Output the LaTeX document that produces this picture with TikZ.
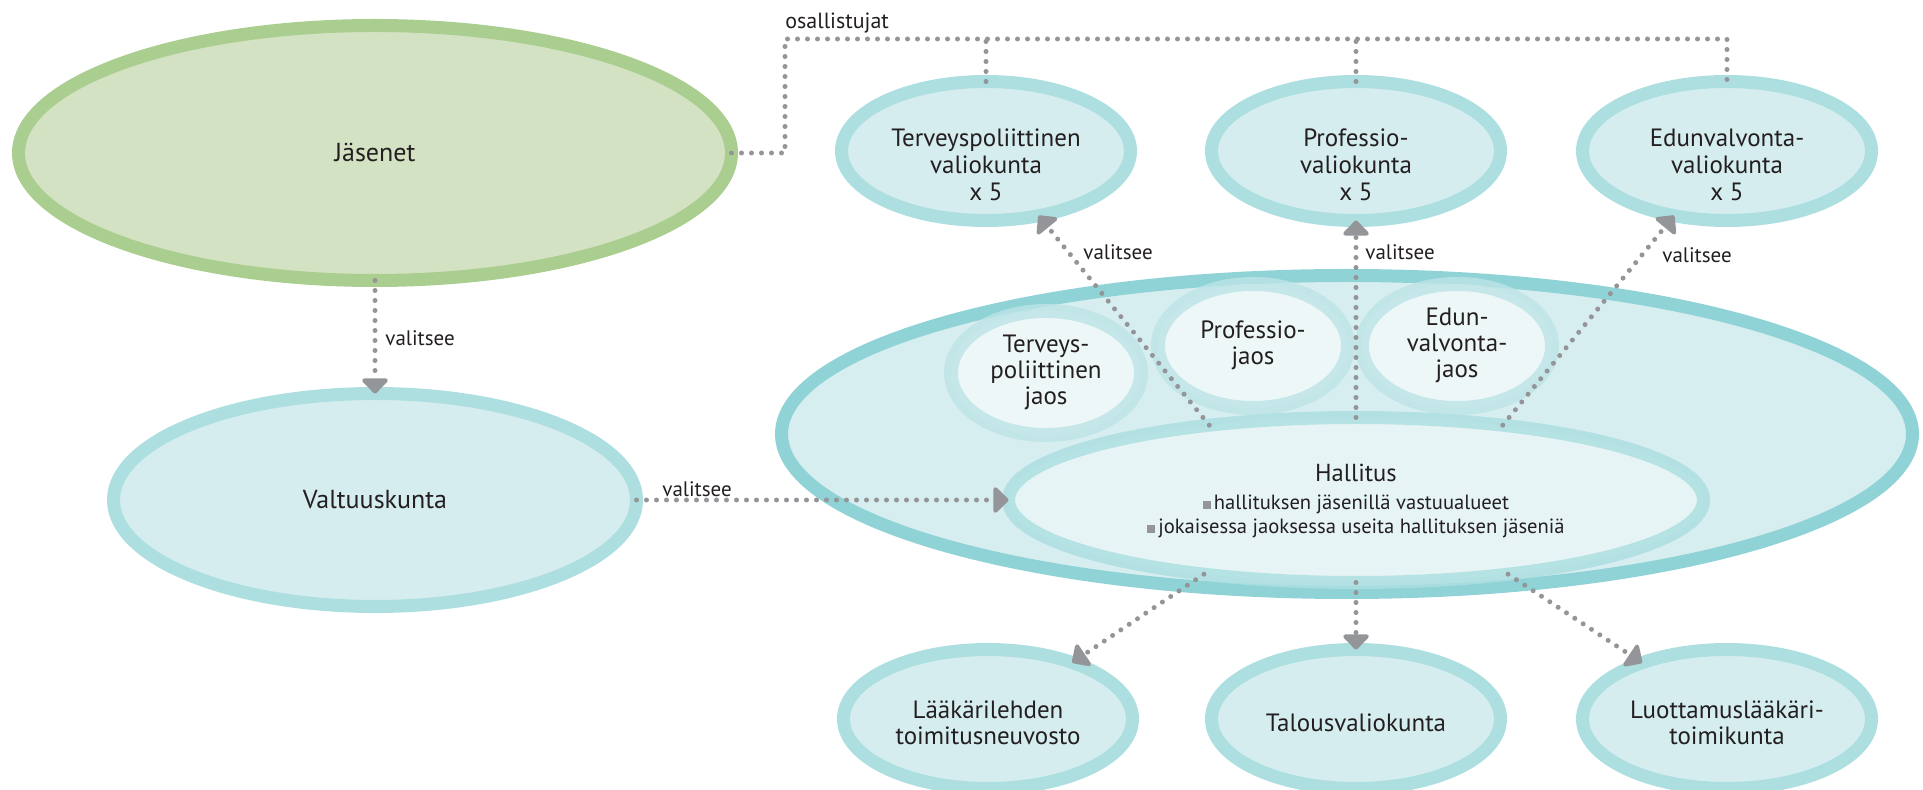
\documentclass[tikz,border=0pt]{standalone}
\usepackage{fontspec}
\setmainfont{PT Sans}
\usetikzlibrary{shapes.geometric,arrows.meta}
\definecolor{txt}{HTML}{231F20}
\definecolor{greenring}{HTML}{AACE8F}
\definecolor{greenfill}{HTML}{D3E2C2}
\definecolor{tealring}{HTML}{ADDFE1}
\definecolor{tealfill}{HTML}{D5EDEE}
\definecolor{bigring}{HTML}{8FD3D7}
\definecolor{bigfill}{HTML}{D7EEF0}
\definecolor{hallring}{HTML}{ADDFE1}
\definecolor{hallfill}{HTML}{EAF6F7}
\definecolor{jaosring}{HTML}{BDE4E7}
\definecolor{jaosfill}{HTML}{EEF7F8}
\definecolor{dotgray}{HTML}{939598}
\newcommand\lowered[2]{\raisebox{#1}[\height][\depth]{\begin{tabular}{@{}c@{}}#2\end{tabular}}}
\newcommand\hbul{{\color{dotgray}\rule{4pt}{4pt}}\hspace{1.5pt}}
\begin{document}
\begin{tikzpicture}[x=0.5pt,y=-0.5pt,
  oval/.style={ellipse, inner sep=0pt, outer sep=0pt, line width=6.5pt, text=txt},
  tealoval/.style={oval, draw=tealring, fill=tealfill, minimum width=144.5pt, minimum height=69.5pt, font=\fontsize{12.5}{13.5}\selectfont},
  jaos/.style={oval, draw=jaosring, draw opacity=0.8, fill=jaosfill, line width=7pt, minimum width=95pt, minimum height=62pt, font=\fontsize{12.5}{13}\selectfont},
  dotline/.style={draw=dotgray, line width=2.5pt, line cap=round, dash pattern=on 0pt off 5pt},
  arr/.style={dotline, -{Triangle[width=15pt,length=8pt,round=false]}},
  lbl/.style={font=\fontsize{10.5}{12}\selectfont, text=txt, inner sep=0pt, anchor=west},
]
\useasboundingbox (0,0) rectangle (1923,790);

% main ovals
\node[oval, draw=greenring, fill=greenfill, minimum width=356.5pt, minimum height=127.5pt, font=\fontsize{13}{15}\selectfont] (jas) at (375,153) {Jäsenet};
\node[oval, draw=tealring, fill=tealfill, minimum width=261.5pt, minimum height=106.5pt, font=\fontsize{13}{15}\selectfont] (val) at (375,500) {Valtuuskunta};
\node[oval, draw=bigring, fill=bigfill, minimum width=565.5pt, minimum height=158.5pt] (big) at (1347,434) {};

% jaos
\node[jaos] (tj) at (1046,373) {\lowered{0pt}{Terveys-\\poliittinen\\jaos}};
\node[jaos] (pj) at (1253,346) {\lowered{0pt}{Professio-\\jaos}};
\node[jaos] (ej) at (1457,346) {\lowered{0pt}{Edun-\\valvonta-\\jaos}};

% hallitus
\node[oval, draw=hallring, fill=hallfill, fill opacity=0.85, draw opacity=0.85, text opacity=1, minimum width=347.5pt, minimum height=82.5pt, font=\fontsize{10.3}{12}\selectfont] (hal) at (1356,500)
  {\lowered{-1pt}{{\fontsize{12.3}{14}\selectfont Hallitus}\\[2pt] \hbul hallituksen jäsenillä vastuualueet\\ \hbul jokaisessa jaoksessa useita hallituksen jäseniä}};

% valiokunnat
\node[tealoval] (tpv) at (986,151) {\lowered{-8.5pt}{Terveyspoliittinen\\valiokunta\\x 5}};
\node[tealoval] (ppv) at (1356,151) {\lowered{-8.5pt}{Professio-\\valiokunta\\x 5}};
\node[tealoval] (epv) at (1727,151) {\lowered{-8.5pt}{Edunvalvonta-\\valiokunta\\x 5}};
\node[tealoval, font=\fontsize{12.5}{13}\selectfont] (lak) at (988,719) {\lowered{-3.5pt}{Lääkärilehden\\toimitusneuvosto}};
\node[tealoval] (tal) at (1356,719) {\lowered{-3.5pt}{Talousvaliokunta}};
\node[tealoval, font=\fontsize{12.5}{13}\selectfont] (luo) at (1727,719) {\lowered{-3.5pt}{Luottamuslääkäri-\\toimikunta}};

% participation bus
\coordinate (busL) at (785,39);
\coordinate (busR) at (1727,39);
\draw[dotline] (jas.east) -| (busL) -- (busR) -- (epv.north);
\draw[dotline] (tpv.north) -- (tpv.north |- busL);
\draw[dotline] (ppv.north) -- (ppv.north |- busL);
\node[lbl, font=\fontsize{11}{12}\selectfont] (osa) at (785,23) {osallistujat};

% elections
\draw[arr] (jas.south) -- (val.north);
\draw[arr] (val.east) -- (hal.west);
\draw[arr] (hal.153.5) -- (tpv);
\draw[arr] (hal.north) -- (ppv);
\draw[arr] (hal.27) -- (epv);
\draw[arr] (hal.206) -- (lak);
\draw[arr] (hal.south) -- (tal);
\draw[arr] (hal.334) -- (luo);

\node[lbl] (v1) at (385,338) {valitsee};
\node[lbl] (v2) at (662,489) {valitsee};
\node[lbl] (v3) at (1083,252) {valitsee};
\node[lbl] (v4) at (1365,252) {valitsee};
\node[lbl] (v5) at (1662,255) {valitsee};
\end{tikzpicture}
\end{document}
